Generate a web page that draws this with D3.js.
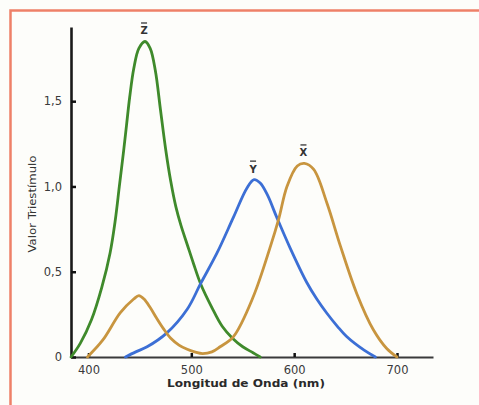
<!DOCTYPE html>
<html>
<head>
<meta charset="utf-8">
<script src="https://cdn.jsdelivr.net/npm/d3@7"></script>
<style>
  html, body { margin: 0; padding: 0; background: #fdfdfa; }
  svg { display: block; }
</style>
</head>
<body>
<svg id="chart" width="479" height="405"></svg>
<script>
// ---- data ----
const xTickValues = [400, 500, 600, 700];
const yTickValues = [0, 0.5, 1.0, 1.5];
const yTickLabels = ["0", "0,5", "1,0", "1,5"];

const zBarNm  = [383, 392, 403, 413, 421, 426, 430, 434, 437, 440, 444, 449, 455, 460, 465, 470, 475, 480, 485, 490, 496, 502, 509, 520, 530, 540, 550, 560, 567];
const zBarVal = [0, 0.08, 0.22, 0.41, 0.61, 0.80, 1.0, 1.20, 1.36, 1.52, 1.69, 1.81, 1.85, 1.81, 1.68, 1.45, 1.22, 1.03, 0.88, 0.77, 0.66, 0.55, 0.43, 0.29, 0.18, 0.11, 0.06, 0.025, 0];

const yBarNm  = [436, 446, 457, 476, 496, 509, 525, 541, 554, 561, 567, 574, 583, 596, 612, 622, 632, 642, 651, 668, 679];
const yBarVal = [0, 0.03, 0.06, 0.14, 0.28, 0.43, 0.61, 0.82, 0.99, 1.04, 1.02, 0.95, 0.82, 0.64, 0.44, 0.34, 0.255, 0.18, 0.12, 0.04, 0];

const xBarNm  = [399, 414, 431, 444, 449, 454, 460, 466, 473, 480, 488, 496, 504, 511, 520, 528, 541, 560, 577, 585, 593, 603, 610, 619, 632, 645, 661, 677, 690, 700];
const xBarVal = [0, 0.10, 0.26, 0.34, 0.36, 0.34, 0.29, 0.23, 0.165, 0.11, 0.07, 0.045, 0.028, 0.02, 0.03, 0.06, 0.12, 0.35, 0.65, 0.81, 1.0, 1.12, 1.135, 1.10, 0.90, 0.65, 0.37, 0.16, 0.05, 0];

const seriesNames = ["Z", "Y", "X"];

// ---- drawing ----
const svg = d3.select("#chart");
const W = 479, H = 405;

svg.append("rect").attr("width", W).attr("height", H).attr("fill", "#fdfdfa");
svg.append("path")
  .attr("d", `M10.5,${H} L10.5,10.5 L${W},10.5`)
  .attr("fill", "none").attr("stroke", "#ee8068").attr("stroke-width", 2.5);

const x = d3.scaleLinear().domain([383, 735]).range([71, 433]);
const y = d3.scaleLinear().domain([0, 1.935]).range([357, 27]);

const font = "'DejaVu Sans', 'Liberation Sans', Arial, sans-serif";

// x axis
const gx = svg.append("g").attr("transform", `translate(0,${y(0)})`)
  .call(d3.axisBottom(x).tickValues(xTickValues).tickSize(-4).tickSizeOuter(0).tickPadding(6).tickFormat(d3.format("d")));
gx.select(".domain").attr("stroke", "#3a3a3a").attr("stroke-width", 1.8);
gx.selectAll(".tick line").attr("stroke", "#111").attr("stroke-width", 2.5);
gx.selectAll(".tick text").attr("font-family", font).attr("font-size", 11.5).attr("fill", "#3a3a3a").attr("dy", "0.95em");

// y axis
const gy = svg.append("g").attr("transform", `translate(${x(383)},0)`)
  .call(d3.axisLeft(y).tickValues(yTickValues).tickSize(-5).tickSizeOuter(0).tickPadding(9)
    .tickFormat((d, i) => yTickLabels[i]));
gy.select(".domain").attr("stroke", "#1a1a1a").attr("stroke-width", 2.6);
gy.selectAll(".tick line").attr("stroke", "#111").attr("stroke-width", 2.5);
gy.selectAll(".tick text").attr("font-family", font).attr("font-size", 11.5).attr("fill", "#3a3a3a");

// axis titles
svg.append("text")
  .attr("x", 246).attr("y", 387)
  .attr("text-anchor", "middle")
  .attr("font-family", font).attr("font-size", 10.5).attr("font-weight", "bold")
  .attr("fill", "#2a2a2a")
  .attr("textLength", 158).attr("lengthAdjust", "spacingAndGlyphs")
  .text("Longitud de Onda (nm)");

svg.append("text")
  .attr("transform", "translate(36,204) rotate(-90)")
  .attr("text-anchor", "middle")
  .attr("font-family", font).attr("font-size", 10.5)
  .attr("fill", "#333")
  .attr("textLength", 97).attr("lengthAdjust", "spacingAndGlyphs")
  .text("Valor Triestímulo");

// curves
const line = d3.line()
  .x(d => x(d[0]))
  .y(d => Math.min(y(0), y(d[1])))
  .curve(d3.curveCatmullRom.alpha(0.5));
const series = [
  { name: seriesNames[0], nm: zBarNm, val: zBarVal, color: "#3f8a2b" },
  { name: seriesNames[1], nm: yBarNm, val: yBarVal, color: "#3c6fd5" },
  { name: seriesNames[2], nm: xBarNm, val: xBarVal, color: "#c8953f" }
];
series.forEach(s => {
  const pts = s.nm.map((n, i) => [n, s.val[i]]);
  svg.append("path").datum(pts)
    .attr("d", line)
    .attr("fill", "none")
    .attr("stroke", s.color)
    .attr("stroke-width", 2.8)
    .attr("stroke-linejoin", "round")
    .attr("stroke-linecap", "round");
  // label with overbar at peak
  const iMax = d3.maxIndex(s.val);
  const px = x(s.nm[iMax]) - 1, py = y(s.val[iMax]);
  svg.append("text")
    .attr("x", px).attr("y", py - 7)
    .attr("text-anchor", "middle")
    .attr("font-family", font).attr("font-size", 10).attr("font-weight", "bold")
    .attr("fill", "#333")
    .text(s.name);
  svg.append("line")
    .attr("x1", px - 3).attr("x2", px + 3)
    .attr("y1", py - 18.5).attr("y2", py - 18.5)
    .attr("stroke", "#444").attr("stroke-width", 1.4);
});
</script>
</body>
</html>
